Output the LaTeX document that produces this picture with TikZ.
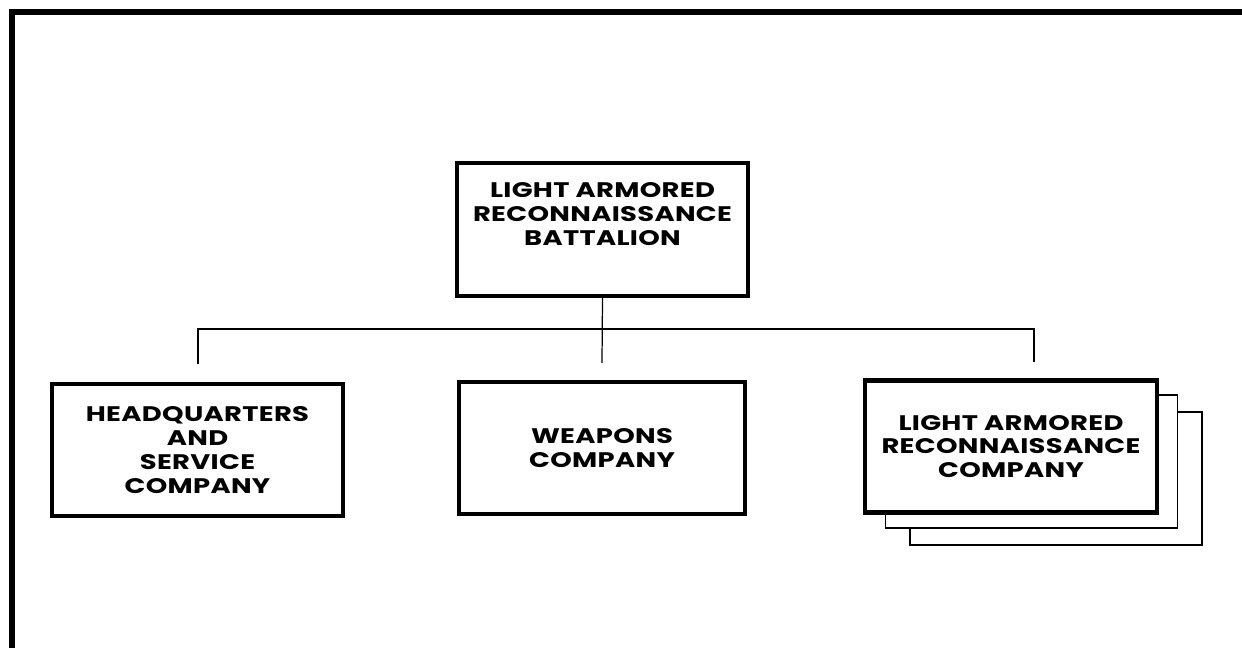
\documentclass[tikz,border=0pt]{standalone}
\usepackage{fontspec}
\setmainfont{Poppins}[FakeStretch=1.3, LetterSpace=1.5]
\usetikzlibrary{positioning}

\begin{document}
\begin{tikzpicture}[x=0.02cm, y=-0.02cm,
       font=\fontsize{12}{13.6}\selectfont\bfseries,
       unit/.style={draw, line width=2.3pt, fill=white, minimum width=5.84cm,
                    minimum height=2.64cm, align=center, inner sep=0pt},
       back/.style={draw, line width=0.8pt, fill=white, minimum width=5.84cm,
                    minimum height=2.66cm, inner sep=0pt},
       utxt/.style={align=center, inner sep=0pt},
       conn/.style={line width=0.7pt}]
     \useasboundingbox (0,0) rectangle (1242,648);
     % frame
     \draw[line width=3pt] (12,648) -- (12,12) -- (1242,12);
     % battalion
     \node[unit, minimum height=2.66cm] (bn) at (602.5,229.5) {};
     \node[utxt, below=0.42cm of bn.north] {LIGHT ARMORED\\RECONNAISSANCE\\BATTALION};
     % companies
     \node[unit] (hq) at (197.5,450) {HEADQUARTERS\\AND\\SERVICE\\COMPANY};
     \node[unit, minimum width=5.74cm] (wpn) at (602,448) {WEAPONS\\COMPANY};
     \node[back] (lar3) at (1056,478.5) {};
     \node[back] (lar2) at (1031.5,461.5) {};
     \node[unit] (lar) at (1011,446.5) {LIGHT ARMORED\\RECONNAISSANCE\\COMPANY};
     % tree
     \coordinate (j) at (602,329);
     \coordinate (dl) at (198,364);
     \coordinate (dm) at (602,363);
     \coordinate (dr) at (1034,362);
     \draw[conn] (bn.south) -- (dm);
     \draw[conn] (dl) -- (dl |- j) -- (dr |- j) -- (dr);
   \end{tikzpicture}
\end{document}
